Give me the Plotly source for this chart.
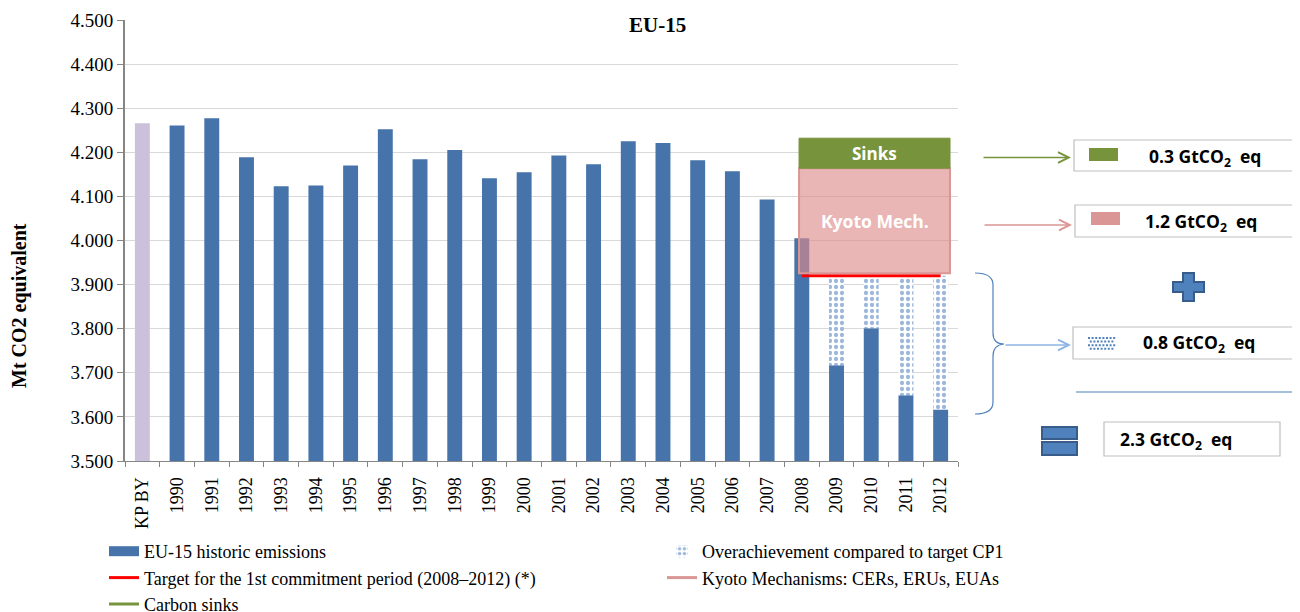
import plotly.graph_objects as go

# ---------------- data (Mt CO2 eq) ----------------
categories = ["KP BY", "1990", "1991", "1992", "1993", "1994", "1995", "1996", "1997",
              "1998", "1999", "2000", "2001", "2002", "2003", "2004", "2005", "2006",
              "2007", "2008", "2009", "2010", "2011", "2012"]
base_year = ["KP BY"]
base_year_value = [4266]
years = categories[1:]
emissions = [4261, 4277, 4189, 4123, 4125, 4170, 4252, 4184, 4205, 4141, 4155, 4193,
             4173, 4225, 4221, 4182, 4157, 4093, 4005, 3717, 3801, 3649, 3617]
cp1_years = ["2008", "2009", "2010", "2011", "2012"]
target_value = 3920
over_years = ["2009", "2010", "2011", "2012"]
over_emissions = [3717, 3801, 3649, 3617]
kyoto_low, kyoto_high = 3926, 4164
sinks_high = 4232
y_ticks = [3500, 3600, 3700, 3800, 3900, 4000, 4100, 4200, 4300, 4400, 4500]
summary_labels = ["0.3 GtCO<sub>2</sub>  eq", "1.2 GtCO<sub>2</sub>  eq",
                  "0.8 GtCO<sub>2</sub>  eq", "2.3 GtCO<sub>2</sub>  eq"]

# ---------------- styling ----------------
OFF = 8                       # page body margin
W, H = 1300 - OFF, 612 - OFF
L, R, T, B = 125, 958, 20, 461   # plot area in screen pixels
SERIF = "Liberation Serif"
SANS = "Open Sans"
BLUE = "#4673A9"
LAVENDER = "#CCC1DA"
GREEN = "#77933C"
PINK = "#DA9694"
RED = "#FF0000"
LINEBLUE = "#4F81BD"


def px(x):
    return (x - L) / (R - L)


def py(y):
    return (B - y) / (B - T)


def P(x, y):
    return f"{px(x):.5f},{py(y):.5f}"


fig = go.Figure()

fig.add_trace(go.Bar(x=base_year, y=base_year_value, width=0.43,
                     marker=dict(color=LAVENDER, line=dict(width=0)),
                     showlegend=False))
fig.add_trace(go.Bar(x=years, y=emissions, width=0.43, name="EU-15 historic emissions",
                     marker=dict(color=BLUE, line=dict(width=0)), showlegend=False))
# legend swatch for emissions
fig.add_trace(go.Scatter(x=[None], y=[None], mode="lines", line=dict(color=BLUE, width=11),
                         name="EU-15 historic emissions", legend="legend"))
over_vals = [target_value - e for e in over_emissions]
fig.add_trace(go.Bar(x=over_years, y=over_vals, base=over_emissions, width=0.43,
                     name="Overachievement compared to target CP1",
                     marker=dict(color="white", line=dict(width=0),
                                 pattern=dict(shape=".", fgcolor="#3A70B8", bgcolor="white",
                                              size=6, solidity=0.4)),
                     legend="legend2"))
fig.add_trace(go.Scatter(x=cp1_years, y=[target_value] * len(cp1_years), mode="lines",
                         line=dict(color=RED, width=3),
                         name="Target for the 1st commitment period (2008\u20132012) (*)",
                         legend="legend"))
fig.add_trace(go.Scatter(x=[None], y=[None], mode="lines", line=dict(color=PINK, width=3),
                         name="Kyoto Mechanisms: CERs, ERUs, EUAs", legend="legend2"))
fig.add_trace(go.Scatter(x=[None], y=[None], mode="lines", line=dict(color=GREEN, width=3),
                         name="Carbon sinks", legend="legend"))

i0 = categories.index(cp1_years[0])
i1 = categories.index(cp1_years[-1])
bx0, bx1 = i0 - 0.08, i1 + 0.27

shapes = []
shapes.append(dict(type="rect", xref="x", yref="y", x0=bx0, x1=bx1, y0=kyoto_low,
                   y1=kyoto_high, fillcolor="rgba(222,140,140,0.64)",
                   line=dict(color=PINK, width=2), layer="above"))
shapes.append(dict(type="rect", xref="x", yref="y", x0=bx0, x1=bx1, y0=kyoto_high,
                   y1=sinks_high, fillcolor=GREEN, line=dict(color=GREEN, width=1),
                   layer="above"))

bracket = ("M " + P(975, 273) + " Q " + P(993, 273) + " " + P(993, 285) +
           " L " + P(993, 333) + " Q " + P(993, 344) + " " + P(1004, 344) +
           " Q " + P(993, 345) + " " + P(993, 356) +
           " L " + P(993, 402) + " Q " + P(993, 414) + " " + P(975, 414))
shapes.append(dict(type="path", xref="paper", yref="paper", path=bracket,
                   line=dict(color=LINEBLUE, width=1.2)))

for (x0, y0, x1, y1) in [(1074, 140, 1320, 171), (1075, 205, 1320, 237),
                         (1073, 327, 1320, 359), (1104, 422, 1280, 456)]:
    shapes.append(dict(type="rect", xref="paper", yref="paper", x0=px(x0), x1=px(x1),
                       y0=py(y1), y1=py(y0), fillcolor="white",
                       line=dict(color="#BFBFBF", width=1.2)))
shapes.append(dict(type="rect", xref="paper", yref="paper", x0=px(1089), x1=px(1118),
                   y0=py(161), y1=py(148), fillcolor=GREEN, line=dict(width=0)))
shapes.append(dict(type="rect", xref="paper", yref="paper", x0=px(1091), x1=px(1120),
                   y0=py(225), y1=py(212), fillcolor=PINK, line=dict(width=0)))
dots = []
for r in range(4):
    for c in range(8):
        dx = 1088 + c * 3.6 + (1.8 if r % 2 else 0)
        dy = 337 + r * 3.6
        if dx + 2 > 1116:
            continue
        dots.append("M " + P(dx, dy) + " L " + P(dx + 2, dy) + " L " + P(dx + 2, dy + 2) +
                    " L " + P(dx, dy + 2) + " Z")
shapes.append(dict(type="path", xref="paper", yref="paper", path=" ".join(dots),
                   fillcolor=LINEBLUE, line=dict(width=0)))
plus = [(1183, 273), (1194, 273), (1194, 282), (1204, 282), (1204, 292), (1194, 292),
        (1194, 301), (1183, 301), (1183, 292), (1173, 292), (1173, 282), (1183, 282)]
shapes.append(dict(type="path", xref="paper", yref="paper",
                   path="M " + " L ".join(P(a, b) for a, b in plus) + " Z",
                   fillcolor=LINEBLUE, line=dict(color="#385D8A", width=2)))
shapes.append(dict(type="line", xref="paper", yref="paper", x0=px(1076), x1=px(1320),
                   y0=py(392), y1=py(392), line=dict(color=LINEBLUE, width=1.2)))
for (a, b) in [(427, 439), (442, 455)]:
    shapes.append(dict(type="rect", xref="paper", yref="paper", x0=px(1042), x1=px(1077),
                       y0=py(b), y1=py(a), fillcolor=LINEBLUE,
                       line=dict(color="#385D8A", width=2)))

annotations = []
annotations.append(dict(xref="paper", yref="paper", x=px(657), y=py(25), xanchor="center",
                        yanchor="middle", text="<b>EU-15</b>", showarrow=False,
                        font=dict(family=SERIF, size=21, color="black")))
annotations.append(dict(xref="paper", yref="paper", x=px(19), y=py(306), xanchor="center",
                        yanchor="middle", text="<b>Mt CO2 equivalent</b>", textangle=-90,
                        showarrow=False, font=dict(family=SERIF, size=20, color="black")))
annotations.append(dict(xref="x", yref="y", x=(bx0 + bx1) / 2,
                        y=(kyoto_high + sinks_high) / 2, text="<b>Sinks</b>", showarrow=False,
                        font=dict(family=SANS, size=17, color="white")))
annotations.append(dict(xref="x", yref="y", x=(bx0 + bx1) / 2,
                        y=(kyoto_low + kyoto_high) / 2, text="<b>Kyoto Mech.</b>",
                        showarrow=False, font=dict(family=SANS, size=17.5, color="white")))
for (x0, x1, y, col) in [(982, 1071, 157.5, GREEN), (983, 1072, 225, PINK),
                         (1004, 1071, 345, "#8EB4E3")]:
    annotations.append(dict(xref="paper", yref="paper", x=px(x1), y=py(y), ax=x0 - x1, ay=0,
                            text="", showarrow=True, arrowhead=5, arrowsize=1.4,
                            arrowwidth=1.5, arrowcolor=col, standoff=0))
for (x, y, t) in zip([1147, 1143, 1141, 1118], [157, 222, 344, 440], summary_labels):
    annotations.append(dict(xref="paper", yref="paper", x=px(x), y=py(y), xanchor="left",
                            yanchor="middle", text="<b>" + t + "</b>", showarrow=False,
                            font=dict(family=SANS, size=17.5, color="black")))

fig.update_layout(
    width=W, height=H,
    margin=dict(l=L - OFF, r=W - (R - OFF), t=T - OFF, b=H - (B - OFF), autoexpand=False),
    paper_bgcolor="white", plot_bgcolor="white",
    barmode="overlay", separators=",.",
    shapes=shapes, annotations=annotations,
    xaxis=dict(type="category", categoryorder="array", categoryarray=categories,
               range=[-0.5, len(categories) - 0.5],
               showline=True, linecolor="#868686", linewidth=1,
               ticks="outside", tickson="boundaries", ticklen=5, tickcolor="#868686",
               tickangle=-90, ticklabelstandoff=8,
               tickfont=dict(family=SERIF, size=18, color="black"),
               showgrid=False),
    yaxis=dict(range=[3500, 4500], tickvals=y_ticks, tickformat=",.0f",
               showline=True, linecolor="#868686", linewidth=2,
               ticks="outside", ticklen=6, tickcolor="#868686",
               gridcolor="#D9D9D9", gridwidth=1, zeroline=False,
               tickfont=dict(family=SERIF, size=19, color="black")),
    legend=dict(x=px(104), xanchor="left", y=py(533), yanchor="top", orientation="v",
                font=dict(family=SERIF, size=18, color="black"), tracegroupgap=0,
                bgcolor="rgba(0,0,0,0)"),
    legend2=dict(x=px(662), xanchor="left", y=py(533), yanchor="top", orientation="v",
                 font=dict(family=SERIF, size=18, color="black"), tracegroupgap=0,
                 bgcolor="rgba(0,0,0,0)"),
)

fig.write_html("out.html")
